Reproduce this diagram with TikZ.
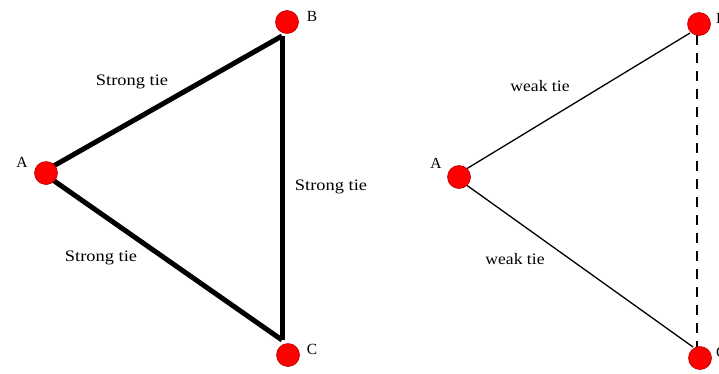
\documentclass[tikz,border=0pt]{standalone}
\usepackage{fontspec}
\setmainfont{Liberation Serif}
\tikzset{
  vtx/.style={circle, fill=red, draw=red!70!black, line width=0.6pt, minimum size=23pt, inner sep=0pt},
  vlab/.style={font=\fontsize{15.5}{17}\selectfont, inner sep=0pt},
  tlab/.style={font=\fontsize{16}{18}\selectfont, inner sep=0pt},
  strong/.style={line width=5pt},
  weak/.style={line width=1.3pt},
  weakdash/.style={line width=2pt, dash pattern=on 10pt off 8pt}
}
\begin{document}
\begin{tikzpicture}[x=1pt,y=-1pt]
\useasboundingbox (0,0) rectangle (719,373);
\clip (0,0) rectangle (719,373);
% left triangle
\coordinate (lBt) at (282,36);
\coordinate (lCt) at (282,340);
\draw[strong] (50,168) -- (lBt);
\draw[strong] (lBt) -- (lCt);
\draw[strong] (50,178) -- (lCt);
\node[vtx] (lA) at (46,173) {};
\node[vtx] (lB) at (287,22) {};
\node[vtx] (lC) at (288,355) {};
\node[vlab] (lAl) at (22,162) {A};
\node[vlab] (lBl) at (312,16) {B};
\node[vlab] (lCl) at (312,349) {C};
\node[tlab] (t1) at (132,82) {\scalebox{1.15}[1]{Strong tie}};
\node[tlab] (t2) at (331,187) {\scalebox{1.15}[1]{Strong tie}};
\node[tlab] (t3) at (101,258) {\scalebox{1.15}[1]{Strong tie}};
% right triangle
\coordinate (rBt) at (697,35);
\coordinate (rCt) at (697,348);
\coordinate (rBs) at (690,33);
\coordinate (rCs) at (693,347);
\draw[weakdash] (rBt) -- (rCt);
\draw[weak] (463,171) -- (rBs);
\draw[weak] (465,184) -- (rCs);
\node[vtx] (rA) at (459,177) {};
\node[vtx] (rB) at (699,24) {};
\node[vtx] (rC) at (700,358) {};
\node[vlab] (rAl) at (436,163) {A};
\node[vlab,anchor=west] (rBl) at (716,18) {B};
\node[vlab,anchor=west] (rCl) at (716,352) {C};
\node[tlab] (w1) at (540,86) {\scalebox{1.1}[1]{weak tie}};
\node[tlab] (w2) at (515,259) {\scalebox{1.1}[1]{weak tie}};
\end{tikzpicture}
\end{document}
